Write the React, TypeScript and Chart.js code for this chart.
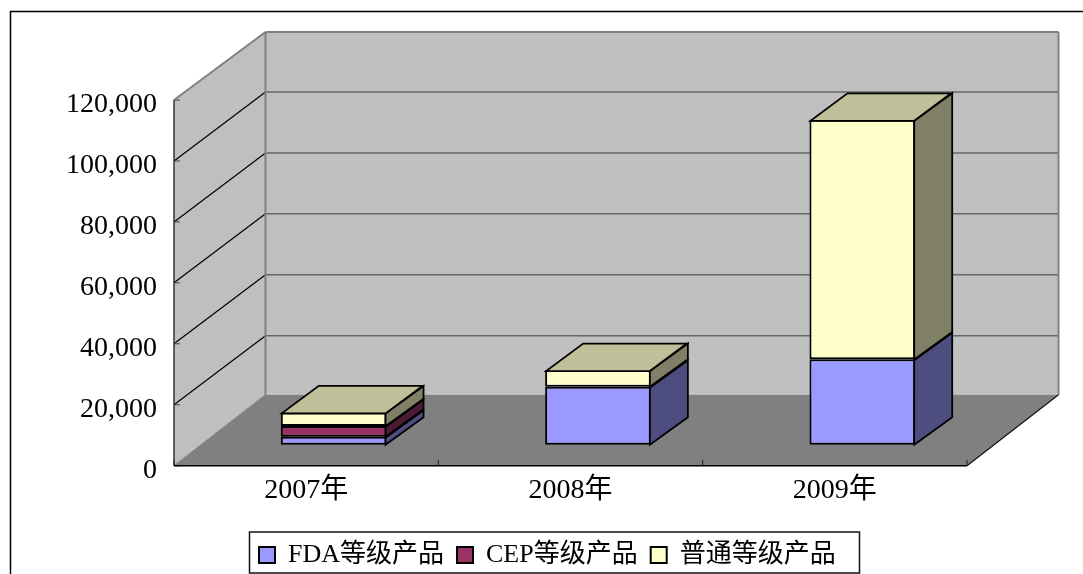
import React, { useEffect, useRef } from "react";
import { Chart, registerables } from "chart.js";

Chart.register(...registerables);

const categories = ["2007年", "2008年", "2009年"];
const seriesNames = ["FDA等级产品", "CEP等级产品", "普通等级产品"];
const fdaValues = [2600, 19000, 28000];
const cepValues = [3500, 0, 0];
const commonValues = [4500, 5500, 78600];
const seriesColors = ["#9999FF", "#993366", "#FFFFCC"];
const sideColors = ["#4D4D80", "#4D1A33", "#808066"];
const topColors = ["#737399", "#73264D", "#BFBF99"];

const FONT = '"Liberation Serif", "Noto Sans CJK SC", serif';
const WALL_DX = 91.5;
const WALL_DY = -69;
const BAR_DX = 27.5;
const BAR_DY = -21;
const DEPTH_DX = 37;
const DEPTH_DY = -27.5;

function poly(ctx: CanvasRenderingContext2D, pts: number[][], fill?: string, stroke?: string, lw = 1) {
  ctx.beginPath();
  pts.forEach((p, i) => (i ? ctx.lineTo(p[0], p[1]) : ctx.moveTo(p[0], p[1])));
  ctx.closePath();
  if (fill) {
    ctx.fillStyle = fill;
    ctx.fill();
  }
  if (stroke) {
    ctx.strokeStyle = stroke;
    ctx.lineWidth = lw;
    ctx.stroke();
  }
}

function line(ctx: CanvasRenderingContext2D, x1: number, y1: number, x2: number, y2: number, color: string, lw: number) {
  ctx.beginPath();
  ctx.moveTo(x1, y1);
  ctx.lineTo(x2, y2);
  ctx.strokeStyle = color;
  ctx.lineWidth = lw;
  ctx.stroke();
}

const box3d = {
  id: "box3d",
  afterLayout(chart: any) {
    const lg = chart.legend;
    lg.left = 246;
    lg.right = 246 + lg.width;
    lg.top = 529;
    lg.bottom = 529 + lg.height;
  },
  beforeDraw(chart: any) {
    const ctx = chart.ctx;
    const { left, right, top, bottom } = chart.chartArea;
    const yS = chart.scales.y;
    ctx.save();
    // outer frame
    ctx.beginPath();
    ctx.moveTo(10.5, 574);
    ctx.lineTo(10.5, 11.5);
    ctx.lineTo(1083, 11.5);
    ctx.strokeStyle = "#000";
    ctx.lineWidth = 1.5;
    ctx.stroke();
    // walls
    const bx = left + WALL_DX;
    const rx = right + WALL_DX;
    const ty = top + WALL_DY + 1;
    const by = bottom + WALL_DY - 2;
    poly(ctx, [[bx, ty], [rx, ty], [rx, by], [bx, by]], "#C0C0C0");
    poly(ctx, [[left, top], [bx, ty], [bx, by], [left, bottom]], "#BFBFBF");
    poly(ctx, [[left, bottom], [right, bottom], [rx, by], [bx, by]], "#808080");
    // gridlines
    yS.ticks.forEach((t: any) => {
      const y = yS.getPixelForValue(t.value);
      if (t.value > 0 && t.value < yS.max) {
        line(ctx, bx, y + WALL_DY, rx, y + WALL_DY, "#666666", 1.5);
        line(ctx, left, y, bx, y + WALL_DY, "#000", 1.2);
      }
      line(ctx, left, y, left + 6, y, "#444", 1);
    });
    // wall edges
    line(ctx, left, top, bx, ty, "#808080", 2);
    line(ctx, bx, ty, rx, ty, "#808080", 2);
    line(ctx, rx, ty, rx, by, "#808080", 2);
    line(ctx, bx, ty, bx, by, "#808080", 2);
    line(ctx, bx, by, left, bottom, "#808080", 1);
    line(ctx, right, bottom, rx, by, "#111", 1.2);
    // front axes
    line(ctx, left, top, left, bottom, "#333", 1.5);
    line(ctx, left, bottom, right, bottom, "#000", 1.5);
    const n = categories.length;
    for (let i = 0; i <= n; i++) {
      const x = left + ((right - left) * i) / n;
      line(ctx, x, bottom, x, bottom - 6, "#222", 1);
    }
    ctx.restore();
  },
  beforeDatasetsDraw(chart: any) {
    chart.ctx.save();
    chart.ctx.translate(BAR_DX, BAR_DY);
  },
  afterDatasetsDraw(chart: any) {
    const ctx = chart.ctx;
    ctx.lineJoin = "miter";
    const last: any[] = [];
    chart.data.datasets.forEach((_: any, d: number) => {
      const meta = chart.getDatasetMeta(d);
      meta.data.forEach((bar: any, i: number) => {
        if (!chart.data.datasets[d].data[i]) return;
        const { x, y, base, width } = bar.getProps(["x", "y", "base", "width"], true);
        const r = x + width / 2;
        poly(
          ctx,
          [[r - 1, y + 1], [r + DEPTH_DX, y + 1 + DEPTH_DY], [r + DEPTH_DX, base + DEPTH_DY], [r - 1, base]],
          sideColors[d],
          "#000",
          1.8
        );
        last[i] = { x, y, width, d };
      });
    });
    last.forEach(({ x, y, width, d }) => {
      const l = x - width / 2 + 1;
      const r = x + width / 2 - 1;
      const t = y + 1;
      poly(ctx, [[l, t], [r, t], [r + DEPTH_DX, t + DEPTH_DY], [l + DEPTH_DX, t + DEPTH_DY]], topColors[d], "#000", 1.8);
    });
    ctx.restore();
  },
  afterDraw(chart: any) {
    const ctx = chart.ctx;
    ctx.save();
    ctx.strokeStyle = "#111";
    ctx.lineWidth = 1.5;
    ctx.strokeRect(249.5, 532, 610, 41);
    ctx.restore();
  },
};

export default function App() {
  const ref = useRef<HTMLCanvasElement | null>(null);
  useEffect(() => {
    const values = [fdaValues, cepValues, commonValues];
    const chart = new Chart(ref.current as HTMLCanvasElement, {
      type: "bar",
      data: {
        labels: categories,
        datasets: seriesNames.map((name, i) => ({
          label: name,
          data: values[i],
          backgroundColor: seriesColors[i],
          borderColor: "#000",
          borderWidth: 2,
          borderSkipped: false as any,
          barPercentage: 0.4,
          categoryPercentage: 1,
          clip: false as any,
        })),
      },
      options: {
        animation: false,
        responsive: false,
        layout: { padding: { left: 0, right: 116, top: 100, bottom: 0 } },
        plugins: {
          title: { display: false },
          tooltip: { enabled: false },
          legend: {
            position: "bottom",
            align: "start",
            labels: {
              boxWidth: 16,
              boxHeight: 16,
              padding: 13,
              color: "#000",
              font: { family: FONT, size: 26 },
            },
          },
        },
        scales: {
          x: {
            stacked: true,
            grid: { display: false, drawTicks: false },
            border: { display: false },
            ticks: { color: "#000", padding: 8, font: { family: FONT, size: 28 }, maxRotation: 0 },
            afterFit(s: any) {
              s.height = 574 - 465.7 - s.chart.legend.height;
            },
          },
          y: {
            stacked: true,
            min: 0,
            max: 120000,
            grid: { display: false, drawTicks: false },
            border: { display: false },
            ticks: {
              stepSize: 20000,
              color: "#000",
              padding: 17,
              labelOffset: 5,
              font: { family: FONT, size: 28 },
              callback: (v: any) => Number(v).toLocaleString("en-US"),
            },
            afterFit(s: any) {
              s.width = 174;
            },
          },
        },
      },
      plugins: [box3d as any],
    });
    return () => chart.destroy();
  }, []);
  return (
    <div style={{ position: "absolute", left: 0, top: 0, width: 1083, height: 574, background: "#fff" }}>
      <canvas ref={ref} width={1083} height={574} style={{ display: "block" }} />
    </div>
  );
}
